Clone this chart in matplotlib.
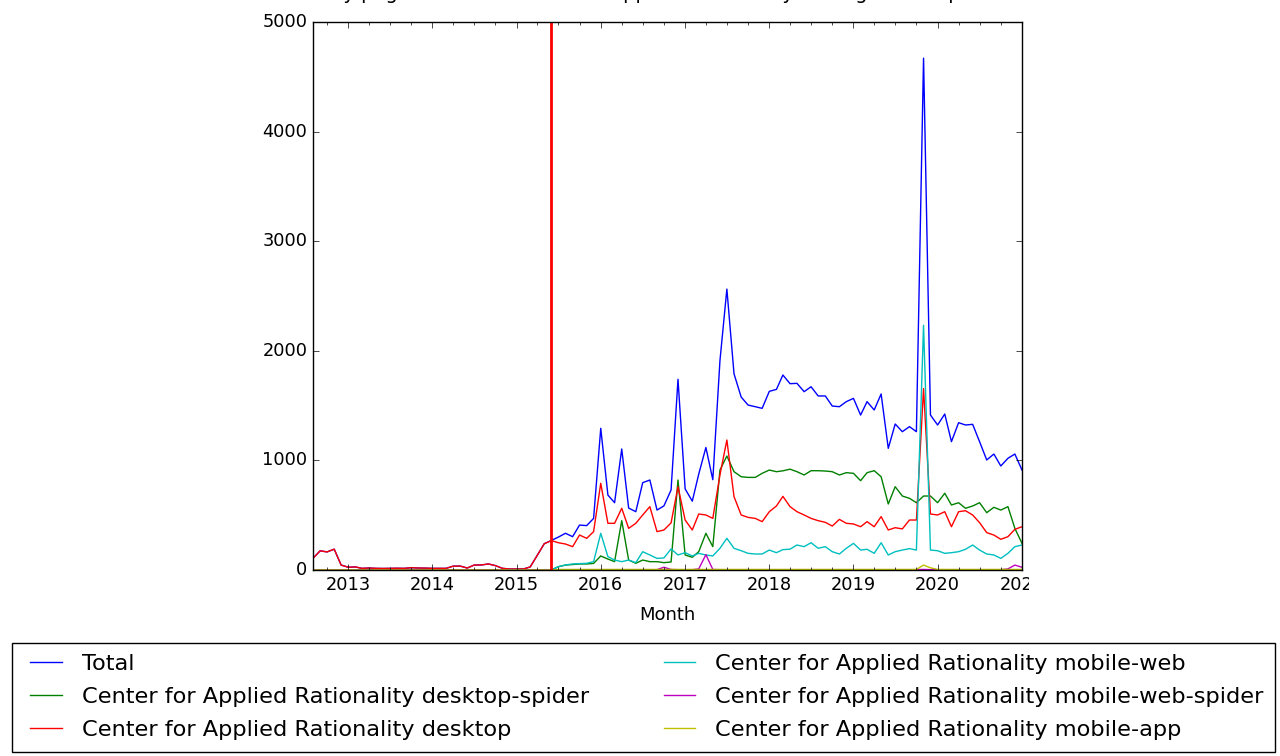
import pandas as pd
import matplotlib
matplotlib.use('Agg')
import matplotlib.pyplot as plt
import matplotlib.dates as mdates
from matplotlib.transforms import Bbox, TransformedBbox

# monthly pageviews, 2012-08 .. 2021-01
months = pd.date_range('2012-08-01', '2021-01-01', freq='MS')
api_switch = pd.Timestamp('2015-06-01')

total = [107, 175, 165, 190, 45,
         25, 28, 15, 18, 15, 14, 15, 16, 15, 21, 18, 17,
         15, 15, 15, 35, 36, 18, 45, 46, 55, 40, 15, 9,
         9, 10, 28, 135, 240, 270, 300, 335, 304, 410, 405, 471,
         1293, 684, 614, 1104, 565, 532, 797, 821, 547, 585, 730, 1740,
         740, 628, 875, 1118, 824, 1910, 2563, 1790, 1578, 1505, 1490, 1475,
         1630, 1648, 1779, 1700, 1703, 1627, 1672, 1588, 1588, 1496, 1490, 1536,
         1566, 1414, 1536, 1460, 1606, 1110, 1332, 1262, 1308, 1262, 4670, 1414,
         1323, 1423, 1171, 1344, 1323, 1329, 1171, 1004, 1058, 949, 1019, 1058,
         912]

desktop_spider = [0, 0, 0, 0, 0,
                  0, 0, 0, 0, 0, 0, 0, 0, 0, 0, 0, 0,
                  0, 0, 0, 0, 0, 0, 0, 0, 0, 0, 0, 0,
                  0, 0, 0, 0, 0, 0, 30, 45, 50, 55, 55, 60,
                  128, 100, 76, 450, 91, 61, 91, 76, 76, 67, 73, 821,
                  137, 116, 167, 335, 213, 912, 1040, 897, 851, 845, 845, 882,
                  912, 897, 905, 920, 897, 867, 906, 906, 903, 897, 867, 888,
                  882, 815, 888, 906, 851, 602, 760, 675, 654, 614, 675, 675,
                  614, 700, 593, 614, 563, 584, 614, 523, 572, 547, 578, 380,
                  243]

desktop = [107, 175, 165, 190, 45,
           25, 28, 15, 18, 15, 14, 15, 16, 15, 21, 18, 17,
           15, 15, 15, 35, 36, 18, 45, 46, 55, 40, 15, 9,
           9, 10, 28, 135, 240, 268, 249, 237, 213, 319, 289, 350,
           791, 426, 426, 563, 380, 426, 502, 578, 350, 365, 430, 760,
           456, 365, 511, 502, 471, 867, 1186, 669, 502, 480, 471, 441,
           532, 584, 672, 578, 532, 502, 471, 450, 435, 401, 462, 426,
           420, 395, 441, 395, 487, 365, 386, 375, 456, 456, 1655, 511,
           502, 532, 395, 532, 541, 502, 432, 341, 319, 280, 304, 371,
           395]

mobile_web = [0, 0, 0, 0, 0,
              0, 0, 0, 0, 0, 0, 0, 0, 0, 0, 0, 0,
              0, 0, 0, 0, 0, 0, 0, 0, 0, 0, 0, 0,
              0, 0, 0, 0, 0, 0, 30, 46, 55, 58, 61, 76,
              335, 122, 91, 76, 91, 67, 167, 137, 106, 110, 192, 137,
              158, 128, 152, 137, 128, 198, 289, 198, 176, 152, 146, 146,
              182, 158, 186, 190, 228, 213, 249, 198, 213, 167, 146, 198,
              243, 182, 189, 152, 249, 137, 167, 182, 195, 182, 2233, 182,
              176, 152, 158, 167, 189, 228, 182, 146, 137, 106, 152, 213,
              228]

mobile_web_spider = [0, 0, 0, 0, 0,
                     0, 0, 0, 0, 0, 0, 0, 0, 0, 0, 0, 0,
                     0, 0, 0, 0, 0, 0, 0, 0, 0, 0, 0, 0,
                     0, 0, 0, 0, 0, 0, 2, 2, 3, 3, 3, 3,
                     3, 3, 3, 3, 3, 3, 3, 3, 3, 25, 5, 3,
                     3, 3, 10, 140, 5, 3, 3, 3, 3, 3, 3, 3,
                     3, 3, 3, 3, 3, 3, 3, 3, 3, 3, 3, 3,
                     3, 3, 3, 3, 3, 3, 3, 3, 3, 3, 5, 3,
                     3, 3, 3, 3, 3, 3, 3, 3, 3, 3, 10, 45,
                     25]

mobile_app = [0, 0, 0, 0, 0,
              0, 0, 0, 0, 0, 0, 0, 0, 0, 0, 0, 0,
              0, 0, 0, 0, 0, 0, 0, 0, 0, 0, 0, 0,
              0, 0, 0, 0, 0, 0, 5, 5, 5, 5, 5, 5,
              5, 5, 5, 5, 5, 5, 5, 5, 5, 5, 5, 5,
              5, 5, 5, 5, 5, 5, 5, 5, 5, 5, 5, 5,
              5, 5, 5, 5, 5, 5, 5, 5, 5, 5, 5, 5,
              5, 5, 5, 5, 5, 5, 5, 5, 5, 5, 45, 20,
              5, 5, 5, 5, 5, 5, 5, 5, 5, 5, 5, 5,
              5]

labels = ["Total",
          "Center for Applied Rationality desktop-spider",
          "Center for Applied Rationality desktop",
          "Center for Applied Rationality mobile-web",
          "Center for Applied Rationality mobile-web-spider",
          "Center for Applied Rationality mobile-app"]

plt.style.use('classic')
plt.rcParams['figure.facecolor'] = 'white'
plt.rcParams['savefig.facecolor'] = 'white'

fig = plt.figure(figsize=(12.8, 7.56), dpi=100)
ax = fig.add_axes([313/1280, 1 - 570/756, (1022 - 313)/1280, (570 - 22)/756])

series = [total, desktop_spider, desktop, mobile_web, mobile_web_spider, mobile_app]
colors = ['b', 'g', 'r', 'c', 'm', 'y']
handles = []
for vals, c, lab in zip(series, colors, labels):
    h, = ax.plot(months, vals, color=c, lw=1.0, label=lab)
    handles.append(h)

ax.axvline(api_switch, color='red', lw=2)

ax.set_xlim(months[0], months[-1])
ax.set_ylim(0, 5000)
ax.set_yticks(range(0, 5001, 1000))
ax.xaxis.set_major_locator(mdates.YearLocator())
ax.xaxis.set_major_formatter(mdates.DateFormatter('%Y'))
ax.xaxis.set_minor_locator(mdates.MonthLocator(bymonth=[1, 4, 7, 10]))
ax.tick_params(labelsize=12.8)
ax.set_xlabel("Month", fontsize=13, labelpad=9)

# title sits almost entirely above the canvas, as in the source screenshot
fig.text(0.5, 1 + 1/756, "Monthly pageviews for Center for Applied Rationality on English Wikipedia",
         ha='center', va='baseline', fontsize=14)

fig.legend(handles, labels, loc='upper left', ncol=2, mode='expand',
           bbox_to_anchor=(12/1280, 1 - 750/756, 1263/1280, 107/756),
           borderaxespad=0, fontsize=16.2, handlelength=2.0, handletextpad=0.6,
           labelspacing=0.58, borderpad=0.5, fancybox=False, frameon=True)

fig.canvas.draw()
# the 2021 label is cut off at the right, like in the original
clip = TransformedBbox(Bbox([[0, 0], [1029/1280, 1]]), fig.transFigure)
for t in ax.xaxis.get_major_ticks():
    t.label1.set_clip_box(clip)
    t.label1.set_clip_on(True)

fig.savefig('out.png', dpi=100)
